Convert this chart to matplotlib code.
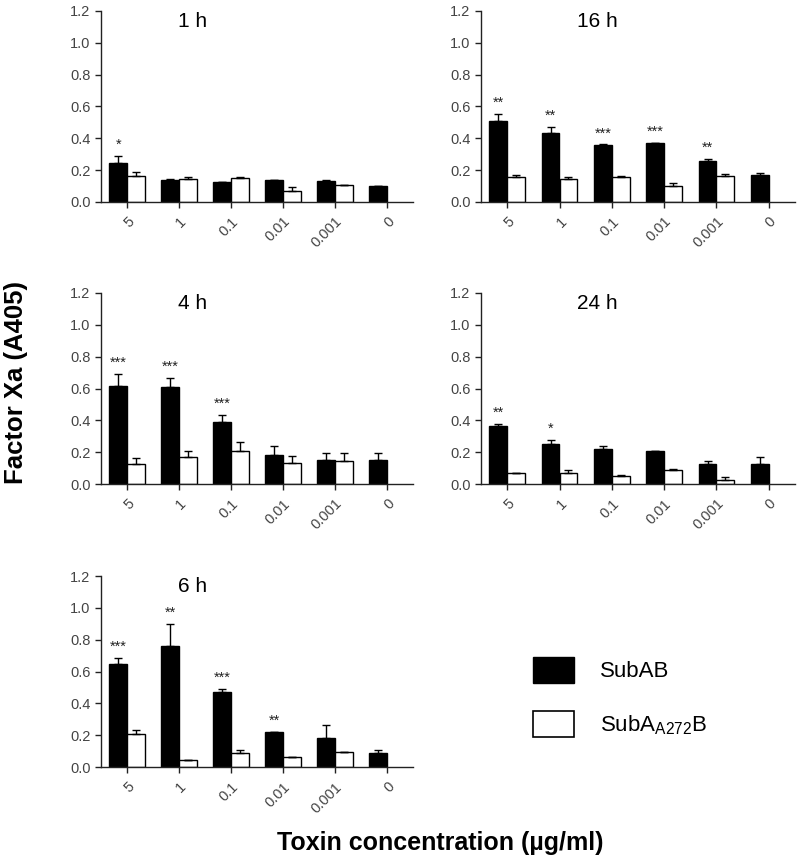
import numpy as np
import matplotlib
matplotlib.use("Agg")
import matplotlib.pyplot as plt
from matplotlib.patches import Patch

plt.rcParams["font.family"] = ["Liberation Sans", "DejaVu Sans"]

doses = ["5", "1", "0.1", "0.01", "0.001", "0"]

# Factor Xa (A405), mean and upper error, per time point
subab_1h = [0.243, 0.140, 0.123, 0.136, 0.134, 0.098]
subab_1h_err = [0.047, 0.002, 0.004, 0.002, 0.001, 0.002]
mut_1h = [0.163, 0.146, 0.150, 0.067, 0.105, np.nan]
mut_1h_err = [0.023, 0.011, 0.005, 0.025, 0.004, np.nan]
stars_1h = ["*", "", "", "", "", ""]

subab_4h = [0.614, 0.607, 0.392, 0.186, 0.151, 0.151]
subab_4h_err = [0.077, 0.061, 0.042, 0.055, 0.046, 0.042]
mut_4h = [0.128, 0.168, 0.205, 0.134, 0.147, np.nan]
mut_4h_err = [0.033, 0.041, 0.059, 0.044, 0.046, np.nan]
stars_4h = ["***", "***", "***", "", "", ""]

subab_6h = [0.647, 0.761, 0.474, 0.218, 0.181, 0.087]
subab_6h_err = [0.041, 0.138, 0.019, 0.005, 0.083, 0.023]
mut_6h = [0.206, 0.044, 0.092, 0.062, 0.094, np.nan]
mut_6h_err = [0.029, 0.0, 0.018, 0.0, 0.004, np.nan]
stars_6h = ["***", "**", "***", "**", "", ""]

subab_16h = [0.508, 0.435, 0.356, 0.368, 0.255, 0.172]
subab_16h_err = [0.046, 0.035, 0.006, 0.004, 0.013, 0.010]
mut_16h = [0.157, 0.144, 0.157, 0.103, 0.163, np.nan]
mut_16h_err = [0.014, 0.013, 0.004, 0.014, 0.013, np.nan]
stars_16h = ["**", "**", "***", "***", "**", ""]

subab_24h = [0.366, 0.253, 0.222, 0.205, 0.128, 0.128]
subab_24h_err = [0.011, 0.023, 0.017, 0.004, 0.016, 0.040]
mut_24h = [0.067, 0.073, 0.054, 0.090, 0.029, np.nan]
mut_24h_err = [0.0, 0.017, 0.005, 0.004, 0.013, np.nan]
stars_24h = ["**", "*", "", "", "", ""]

panels = [
    ("1 h", subab_1h, subab_1h_err, mut_1h, mut_1h_err, stars_1h, [0.12625, 0.766, 0.39, 0.2215], 0.247),
    ("4 h", subab_4h, subab_4h_err, mut_4h, mut_4h_err, stars_4h, [0.12625, 0.439, 0.39, 0.2215], 0.247),
    ("6 h", subab_6h, subab_6h_err, mut_6h, mut_6h_err, stars_6h, [0.12625, 0.111, 0.39, 0.2215], 0.247),
    ("16 h", subab_16h, subab_16h_err, mut_16h, mut_16h_err, stars_16h, [0.60125, 0.766, 0.3925, 0.2215], 0.306),
    ("24 h", subab_24h, subab_24h_err, mut_24h, mut_24h_err, stars_24h, [0.60125, 0.439, 0.3925, 0.2215], 0.306),
]

AX_COL = "#222222"
TICK_COL = "#444444"
W = 0.34

fig = plt.figure(figsize=(8, 8.63), dpi=100)

for title, wt, wt_err, mut, mut_err, stars, rect, tx in panels:
    ax = fig.add_axes(rect)
    x = np.arange(len(doses))
    wt = np.array(wt)
    mut = np.array(mut)
    ax.bar(x - W / 2, wt, W, color="black", edgecolor="black", linewidth=1)
    ax.bar(x + W / 2, mut, W, color="white", edgecolor="black", linewidth=1)
    ax.errorbar(x - W / 2, wt, yerr=[np.zeros_like(wt), wt_err], fmt="none",
                ecolor="black", elinewidth=1, capsize=3, capthick=1)
    ax.errorbar(x + W / 2, mut, yerr=[np.zeros_like(mut), mut_err], fmt="none",
                ecolor="black", elinewidth=1, capsize=3, capthick=1)
    for xi, v, e, s in zip(x, wt, wt_err, stars):
        if s:
            ax.text(xi - W / 2, v + e + 0.025, s, ha="center", va="bottom",
                    fontsize=10.5, color="#222222")
    ax.text(tx, 1.10, title, transform=ax.get_yaxis_transform(), ha="left",
            va="baseline", fontsize=15, clip_on=False)
    ax.set_xlim(-0.5, 5.5)
    ax.set_ylim(0, 1.2)
    ax.set_yticks(np.arange(0, 1.21, 0.2))
    ax.set_yticklabels([f"{t:.1f}" for t in np.arange(0, 1.21, 0.2)])
    ax.set_xticks(x)
    ax.set_xticklabels(doses, rotation=45, ha="right", va="top", rotation_mode="anchor")
    ax.tick_params(axis="both", direction="out", length=4, width=1, color=AX_COL,
                   labelcolor=TICK_COL, labelsize=10.5)
    ax.tick_params(axis="x", pad=5)
    ax.spines[["top", "right"]].set_visible(False)
    for sp in ("left", "bottom"):
        ax.spines[sp].set_color(AX_COL)
        ax.spines[sp].set_linewidth(1)

handles = [Patch(facecolor="black", edgecolor="black", linewidth=1),
           Patch(facecolor="white", edgecolor="black", linewidth=1.2)]
labels = ["SubAB", r"$\mathregular{SubA_{A272}B}$"]
fig.legend(handles, labels, loc="upper left", bbox_to_anchor=(533 / 800, 1 - 657 / 863),
           frameon=False, fontsize=16, handlelength=1.86, handleheight=1.4,
           handletextpad=1.15, labelspacing=1.28, borderpad=0, borderaxespad=0)

fig.text(0.02, 1 - 383 / 863, "Factor Xa (A405)", rotation=90, ha="center",
         va="center", fontsize=18.5, fontweight="bold")
fig.text(277 / 800, 1 - 843 / 863, "Toxin concentration (µg/ml)", ha="left",
         va="center", fontsize=18, fontweight="bold")

fig.savefig("out.png", dpi=100)
